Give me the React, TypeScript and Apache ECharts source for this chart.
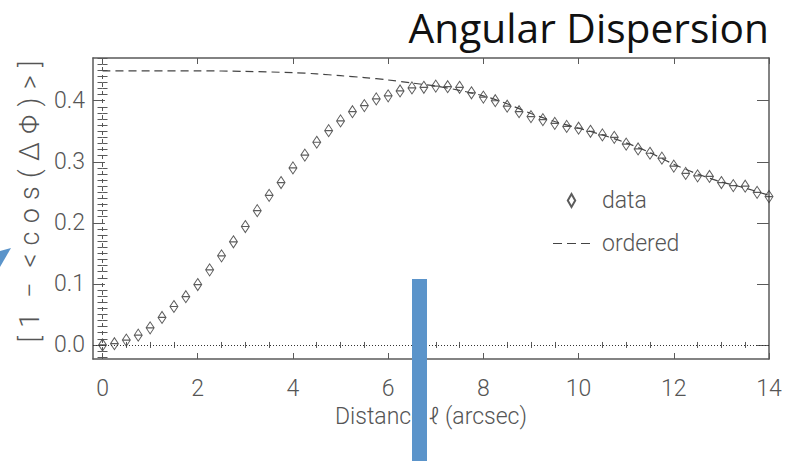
import React, { useEffect, useRef } from "react";
import * as echarts from "echarts";

// Distance samples (arcsec) and the measured dispersion at each one
const distance = [
  0, 0.25, 0.5, 0.75, 1, 1.25, 1.5, 1.75, 2, 2.25, 2.5, 2.75, 3, 3.25, 3.5, 3.75,
  4, 4.25, 4.5, 4.75, 5, 5.25, 5.5, 5.75, 6, 6.25, 6.5, 6.75, 7, 7.25, 7.5, 7.75,
  8, 8.25, 8.5, 8.75, 9, 9.25, 9.5, 9.75, 10, 10.25, 10.5, 10.75, 11, 11.25, 11.5,
  11.75, 12, 12.25, 12.5, 12.75, 13, 13.25, 13.5, 13.75, 14,
];
const dispersion = [
  0.0, 0.002, 0.008, 0.016, 0.028, 0.045, 0.063, 0.079, 0.099, 0.123, 0.146, 0.169,
  0.194, 0.22, 0.245, 0.266, 0.29, 0.311, 0.332, 0.351, 0.367, 0.382, 0.392, 0.403,
  0.408, 0.416, 0.421, 0.422, 0.424, 0.423, 0.422, 0.413, 0.406, 0.4, 0.391, 0.382,
  0.374, 0.369, 0.363, 0.358, 0.355, 0.35, 0.344, 0.34, 0.329, 0.321, 0.314, 0.306,
  0.293, 0.281, 0.277, 0.276, 0.266, 0.261, 0.26, 0.25, 0.243,
];

// "ordered" curve
const orderedX = [
  0, 1, 2, 3, 4, 4.5, 5, 5.5, 6, 6.5, 7, 7.5, 8, 8.5, 9, 9.5, 10, 10.5, 11, 11.5,
  12, 12.5, 13, 13.5, 14,
];
const orderedY = [
  0.449, 0.449, 0.449, 0.448, 0.446, 0.444, 0.441, 0.438, 0.434, 0.429, 0.424,
  0.417, 0.408, 0.395, 0.379, 0.366, 0.355, 0.344, 0.331, 0.315, 0.296, 0.28,
  0.267, 0.257, 0.245,
];

// Axis ticks
const xTickLabels = [0, 2, 4, 6, 8, 10, 12, 14];
const yTickLabels = [0, 0.1, 0.2, 0.3, 0.4];
const xMinorTicks = [
  0.5, 1, 1.5, 2.5, 3, 3.5, 4.5, 5, 5.5, 6.5, 7, 7.5, 8.5, 9, 9.5, 10.5, 11, 11.5,
  12.5, 13, 13.5,
];
const yMinorTicks: number[] = [];
for (let i = -2; i <= 47; i++) {
  if (i % 10 !== 0) yMinorTicks.push(i / 100);
}

const X_MIN = -0.2;
const X_MAX = 14;
const Y_MIN = -0.023;
const Y_MAX = 0.47;

const AXIS_FONT = "Roboto, 'Liberation Sans', sans-serif";
const INK = "#555";
const FRAME_COLOR = "#5a5a5a";
const DIAMOND = "path://M4,0 L8,6 L4,12 L0,6 Z M0,6 L8,6";
const LEGEND_DIAMOND = "path://M4,0 L8,7 L4,14 L0,7 Z";
const LEGEND_DASHES = "path://M0,0 H9 V1.2 H0 Z M14,0 H23 V1.2 H14 Z M28,0 H37 V1.2 H28 Z";
const BLUE = "#5b94ca";
const T = "\u2009\u200a"; // thin + hair space between glyphs of the y title

function xAxisPart(position: "bottom" | "top", major: boolean, withLabels: boolean) {
  return {
    type: "value",
    position,
    min: X_MIN,
    max: X_MAX,
    axisLine: major
      ? { show: true, onZero: false, lineStyle: { color: FRAME_COLOR, width: 1.5 } }
      : { show: false },
    axisTick: {
      show: true,
      inside: true,
      length: major ? 6 : 3,
      customValues: major ? xTickLabels : xMinorTicks,
      lineStyle: { color: FRAME_COLOR, width: 1 },
    },
    axisLabel: withLabels
      ? {
          show: true,
          customValues: xTickLabels,
          margin: 18,
          fontFamily: AXIS_FONT,
          fontWeight: 300,
          fontSize: 23,
          color: INK,
          formatter: (v: number) => String(v),
        }
      : { show: false },
    splitLine: { show: false },
    ...(withLabels
      ? {
          name: "Distance ℓ (arcsec)",
          nameLocation: "middle",
          nameGap: 37,
          nameTextStyle: {
            fontFamily: AXIS_FONT,
            fontWeight: 300,
            fontSize: 23,
            color: INK,
            verticalAlign: "top",
          },
        }
      : {}),
  };
}

function yAxisPart(position: "left" | "right", major: boolean, withLabels: boolean) {
  return {
    type: "value",
    position,
    min: Y_MIN,
    max: Y_MAX,
    axisLine: major
      ? { show: true, onZero: false, lineStyle: { color: FRAME_COLOR, width: 1.5 } }
      : { show: false },
    axisTick: {
      show: true,
      inside: true,
      length: major ? 12 : 5,
      customValues: major ? yTickLabels : yMinorTicks,
      lineStyle: { color: FRAME_COLOR, width: 1 },
    },
    axisLabel: withLabels
      ? {
          show: true,
          customValues: yTickLabels,
          margin: 8,
          fontFamily: AXIS_FONT,
          fontWeight: 300,
          fontSize: 23,
          color: INK,
          formatter: (v: number) => v.toFixed(1),
        }
      : { show: false },
    splitLine: { show: false },
    ...(withLabels
      ? {
          name: `[${T}1 ${T}− ${T}<${T}c${T}o${T}s${T}(${T}Δ${T}Φ${T})${T}>${T}]`,
          nameLocation: "middle",
          nameRotate: 90,
          nameGap: 49,
          nameTextStyle: {
            fontFamily: AXIS_FONT,
            fontWeight: 300,
            fontSize: 27,
            color: INK,
            padding: [0, 0, 0, 14],
          },
        }
      : {}),
  };
}

export default function App() {
  const ref = useRef<HTMLDivElement>(null);

  useEffect(() => {
    if (!ref.current) return;
    const chart = echarts.init(ref.current, undefined, { renderer: "svg" });

    const dataPoints = distance.map((d, i) => [d, dispersion[i]]);
    const orderedPoints = orderedX.map((d, i) => [d, orderedY[i]]);

    chart.setOption({
      animation: false,
      backgroundColor: "#ffffff",
      title: {
        text: "Angular Dispersion",
        right: 14,
        top: 1,
        textStyle: {
          fontFamily: "'Open Sans', 'Noto Sans', sans-serif",
          fontWeight: "normal",
          fontSize: 40.7,
          color: "#111",
        },
      },
      grid: {
        left: 93,
        right: 19,
        top: 58,
        bottom: 102,
        containLabel: false,
        outerBoundsMode: "none",
      },
      legend: {
        orient: "vertical",
        left: 548,
        top: 184,
        itemWidth: 37,
        itemHeight: 13,
        itemGap: 20,
        symbolKeepAspect: true,
        data: [
          { name: "data", icon: LEGEND_DIAMOND },
          { name: "ordered", icon: LEGEND_DASHES },
        ],
        textStyle: {
          fontFamily: AXIS_FONT,
          fontWeight: 300,
          fontSize: 23,
          color: INK,
          padding: [0, 0, 0, 7],
        },
      },
      xAxis: [
        xAxisPart("bottom", true, true),
        xAxisPart("bottom", false, false),
        xAxisPart("top", true, false),
        xAxisPart("top", false, false),
      ],
      yAxis: [
        yAxisPart("left", true, true),
        yAxisPart("left", false, false),
        yAxisPart("right", true, false),
        yAxisPart("right", false, false),
      ],
      series: [
        {
          name: "ordered",
          type: "line",
          data: orderedPoints,
          smooth: 0.3,
          symbol: "none",
          clip: true,
          lineStyle: { color: "#444", width: 1.2, type: [8, 5] },
          itemStyle: { color: "#444" },
          markLine: {
            silent: true,
            symbol: "none",
            label: { show: false },
            data: [
              { yAxis: 0, lineStyle: { color: "#333", width: 1, type: [1, 2] } },
              { xAxis: 0, lineStyle: { color: "#555", width: 1, type: [4, 4] } },
            ],
          },
        },
        {
          name: "data",
          type: "scatter",
          data: dataPoints,
          symbol: DIAMOND,
          symbolSize: [8, 12],
          clip: true,
          itemStyle: { color: "rgba(0,0,0,0)", borderColor: "#333", borderWidth: 1 },
        },
      ],
      graphic: [
        {
          type: "rect",
          z: 100,
          shape: { x: 412, y: 279, width: 15, height: 190 },
          style: { fill: BLUE },
        },
        {
          type: "polygon",
          z: 100,
          shape: { points: [[0, 251], [11, 248], [0, 267]] },
          style: { fill: BLUE },
        },
      ],
    });

    return () => chart.dispose();
  }, []);

  return (
    <div
      ref={ref}
      style={{ position: "absolute", left: 0, top: 0, width: 788, height: 461 }}
    />
  );
}
